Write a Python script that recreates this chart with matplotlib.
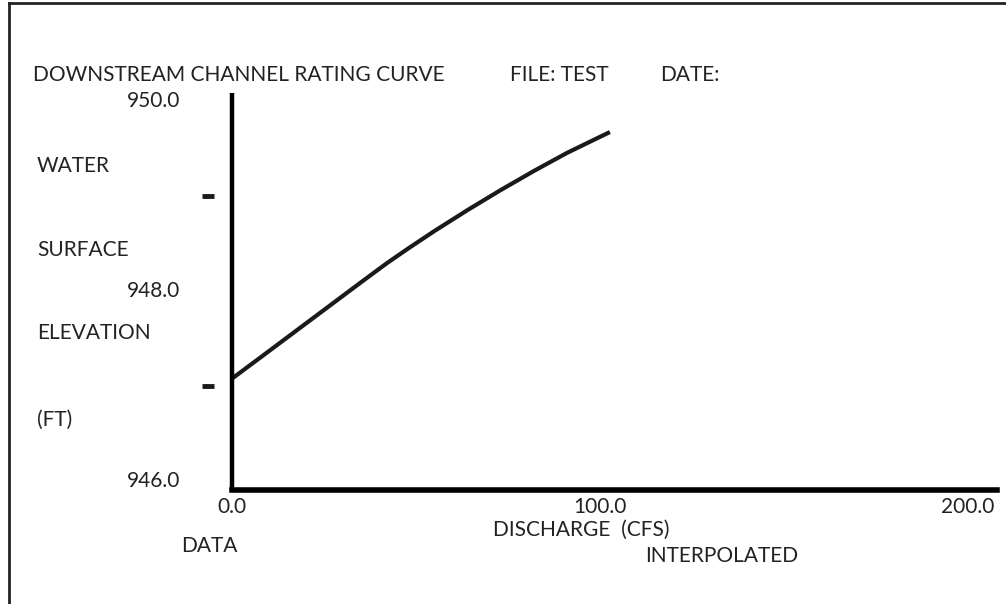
import numpy as np
import matplotlib
matplotlib.use('Agg')
import matplotlib.pyplot as plt
import matplotlib.transforms as mtransforms

plt.rcParams['font.family'] = ['Lato', 'DejaVu Sans']

# Rating curve
discharge = [0.0, 8.0, 17.0, 26.0, 35.0, 42.0, 48.0, 55.0, 64.0, 73.0, 82.0, 91.0, 102.7]
elevation = [947.08, 947.31, 947.57, 947.83, 948.09, 948.29, 948.45, 948.63,
             948.85, 949.06, 949.26, 949.45, 949.67]

y_labels = [950.0, 948.0, 946.0]
y_dashes = [949.0, 947.0]
x_labels = [0.0, 100.0, 200.0]
y_words = ['WATER', 'SURFACE', 'ELEVATION', '(FT)']
y_word_pos = [166, 250, 333, 420]   # pixel rows

W, H = 1006, 604
fig = plt.figure(figsize=(W / 100, H / 100), dpi=100)

def fx(px):
    return px / W

def fy(py):
    return 1 - py / H

ax = fig.add_axes([fx(232), fy(490), fx(997) - fx(232), fy(93) - fy(490)])
ax.set_xlim(0, 207.9)
ax.set_ylim(945.91, 950.08)
for s in ['top', 'right']:
    ax.spines[s].set_visible(False)
ax.spines['left'].set_linewidth(3.2)
ax.spines['bottom'].set_linewidth(4)
ax.spines['left'].set_capstyle('butt')
ax.set_xticks([])
ax.set_yticks([])
ax.patch.set_alpha(0)

ax.plot(discharge, elevation, color='#1a1a1a', lw=3, solid_capstyle='butt',
        solid_joinstyle='round')

fs = 15
col = '#222222'
# y tick labels, right-aligned left of the axis
ytr = mtransforms.blended_transform_factory(fig.transFigure, ax.transData)
for v in y_labels:
    ax.text(fx(180), v, '%.1f' % v, transform=ytr, ha='right', va='center',
            fontsize=fs, color=col)
for v in y_dashes:
    ax.plot([fx(202), fx(214)], [v, v], transform=ytr, color='#1a1a1a',
            lw=3.5, solid_capstyle='butt', clip_on=False)

xtr = mtransforms.blended_transform_factory(ax.transData, fig.transFigure)
for v in x_labels:
    ax.text(v, fy(507), '%.1f' % v, transform=xtr, ha='center', va='center',
            fontsize=fs, color=col)

for w, p in zip(y_words, y_word_pos):
    fig.text(fx(37), fy(p), w, ha='left', va='center', fontsize=fs, color=col)

fig.text(fx(33), fy(75), 'DOWNSTREAM CHANNEL RATING CURVE', ha='left', va='center',
         fontsize=fs, color=col)
fig.text(fx(510), fy(75), 'FILE: TEST', ha='left', va='center', fontsize=fs, color=col)
fig.text(fx(660), fy(75), 'DATE:', ha='left', va='center', fontsize=fs, color=col)
fig.text(fx(493), fy(530), 'DISCHARGE  (CFS)', ha='left', va='center', fontsize=fs, color=col)
fig.text(fx(181), fy(546), 'DATA', ha='left', va='center', fontsize=fs, color=col)
fig.text(fx(645), fy(556), 'INTERPOLATED', ha='left', va='center', fontsize=fs, color=col)

# partial frame: left and top edges
fig.add_artist(plt.Line2D([fx(9), fx(9)], [0, fy(3)], color='#222222', lw=2))
fig.add_artist(plt.Line2D([fx(9), 1], [fy(3), fy(3)], color='#222222', lw=2))

fig.savefig('out.png', dpi=100)
